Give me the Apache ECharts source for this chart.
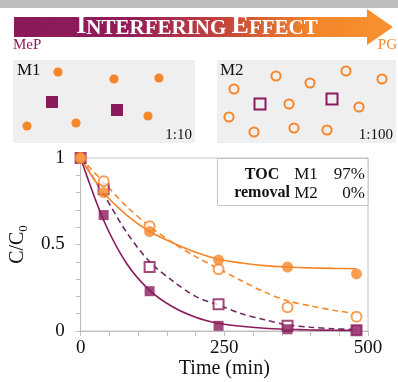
<!DOCTYPE html>
<html>
<head>
<meta charset="utf-8">
<script src="https://cdn.jsdelivr.net/npm/echarts@6/dist/echarts.min.js"></script>
<style>html,body{margin:0;padding:0;background:#fff}#c{width:398px;height:382px}</style>
</head>
<body>
<div id="c"></div>
<script>
// ---- data ----
const times = [0, 40, 120, 240, 360, 480];
const mepM1 = [1, 0.67, 0.23, 0.03, 0.01, 0.005];
const mepM2 = [1, 0.82, 0.37, 0.155, 0.03, 0.005];
const pgM1 = [1, 0.80, 0.575, 0.41, 0.37, 0.33];
const pgM2 = [1, 0.865, 0.605, 0.357, 0.137, 0.083];
const fitTimes = [0, 40, 80, 120, 160, 200, 240, 280, 320, 360, 400, 440, 480];
const fitMepM1 = [1, 0.64, 0.39, 0.235, 0.14, 0.08, 0.045, 0.027, 0.016, 0.01, 0.006, 0.004, 0.003];
const fitMepM2 = [1, 0.79, 0.57, 0.40, 0.29, 0.20, 0.15, 0.10, 0.065, 0.035, 0.022, 0.013, 0.008];
const fitPgM1 = [1, 0.80, 0.67, 0.575, 0.51, 0.455, 0.415, 0.393, 0.378, 0.37, 0.365, 0.362, 0.36];
const fitPgM2 = [1, 0.86, 0.72, 0.605, 0.51, 0.43, 0.36, 0.29, 0.225, 0.175, 0.145, 0.12, 0.10];
const xTickLabels = [0, 250, 500];
const yTickLabels = [0, 0.5, 1];
const tocRows = [['M1', '97%'], ['M2', '0%']];

const PURPLE = '#8B1A5C';
const ORANGE = '#F7862B';
const SERIF = '"Liberation Serif", "DejaVu Serif", serif';

const pairs = (xs, ys) => xs.map((x, i) => [x, ys[i]]);

// ---- illustration (decoration) ----
const m1Circles = [[58,72],[114,79],[159,78],[27,126],[76,123],[148,116]];
const m1Squares = [[52,102],[117,110]];
const m2Circles = [[276,76],[310,83],[346,71],[382,79],[234,89],[289,104],[359,107],[229,117],[254,132],[294,128],[327,130]];
const m2Squares = [[260,104],[332,99]];

const graphic = [];
graphic.push({type:'rect', shape:{x:0,y:0,width:398,height:8}, style:{fill:'#bdbdbd'}, silent:true});
graphic.push({type:'polygon', shape:{points:[[14,17],[367,17],[367,9],[393,27],[367,45],[367,37],[14,37]]},
  style:{fill:new echarts.graphic.LinearGradient(0,0,1,0,[
    {offset:0,color:'#8a1a5b'},{offset:0.3,color:'#921c58'},{offset:0.55,color:'#c4443c'},
    {offset:0.78,color:'#f2852b'},{offset:1,color:'#f8922f'}])}, silent:true});
graphic.push({type:'text', x:197, y:26, z:5, style:{
  text:'{b|I}{s|NTERFERING }{b|E}{s|FFECT}', align:'center', verticalAlign:'middle',
  rich:{
    b:{fontSize:26, fontWeight:'bold', fontFamily:SERIF, fill:'#fff', verticalAlign:'bottom'},
    s:{fontSize:21, fontWeight:'bold', fontFamily:SERIF, fill:'#fff', verticalAlign:'bottom'}
  }}, silent:true});
graphic.push({type:'text', x:13, y:53, style:{text:'MeP', fontSize:15, fontFamily:SERIF, fill:PURPLE, verticalAlign:'bottom'}});
graphic.push({type:'text', x:397, y:53, style:{text:'PG', fontSize:15, fontFamily:SERIF, fill:ORANGE, align:'right', verticalAlign:'bottom'}});
graphic.push({type:'rect', shape:{x:13,y:60,width:182,height:83}, style:{fill:'#efefef'}});
graphic.push({type:'rect', shape:{x:217,y:60,width:179,height:83}, style:{fill:'#efefef'}});
graphic.push({type:'text', x:17, y:71, style:{text:'M1', fontSize:17, fontFamily:SERIF, fill:'#111', verticalAlign:'middle'}});
graphic.push({type:'text', x:220, y:71, style:{text:'M2', fontSize:17, fontFamily:SERIF, fill:'#111', verticalAlign:'middle'}});
graphic.push({type:'text', x:192, y:135, style:{text:'1:10', fontSize:15, fontFamily:SERIF, fill:'#111', align:'right', verticalAlign:'middle'}});
graphic.push({type:'text', x:393, y:135, style:{text:'1:100', fontSize:15, fontFamily:SERIF, fill:'#111', align:'right', verticalAlign:'middle'}});
m1Circles.forEach(p => graphic.push({type:'circle', shape:{cx:p[0], cy:p[1], r:4.6}, style:{fill:ORANGE}}));
m1Squares.forEach(p => graphic.push({type:'rect', shape:{x:p[0]-6, y:p[1]-6, width:12, height:12}, style:{fill:PURPLE}}));
m2Circles.forEach(p => graphic.push({type:'circle', shape:{cx:p[0], cy:p[1], r:4.6}, style:{fill:'none', stroke:ORANGE, lineWidth:2}}));
m2Squares.forEach(p => graphic.push({type:'rect', shape:{x:p[0]-5.5, y:p[1]-5.5, width:11, height:11}, style:{fill:'none', stroke:PURPLE, lineWidth:2}}));

// TOC removal box
graphic.push({type:'rect', z:10, shape:{x:217.5,y:158.5,width:150.5,height:47}, style:{fill:'#fff', stroke:'#c4c4c4', lineWidth:1}});
graphic.push({type:'text', z:11, x:262, y:175, style:{text:'TOC', fontSize:16, fontWeight:'bold', fontFamily:SERIF, fill:'#111', align:'center', verticalAlign:'middle'}});
graphic.push({type:'text', z:11, x:262, y:193, style:{text:'removal', fontSize:16, fontWeight:'bold', fontFamily:SERIF, fill:'#111', align:'center', verticalAlign:'middle'}});
tocRows.forEach((r, i) => {
  graphic.push({type:'text', z:11, x:306, y:175 + i*18.5, style:{text:r[0], fontSize:17, fontFamily:SERIF, fill:'#111', align:'center', verticalAlign:'middle'}});
  graphic.push({type:'text', z:11, x:365, y:175 + i*18.5, style:{text:r[1], fontSize:17, fontFamily:SERIF, fill:'#111', align:'right', verticalAlign:'middle'}});
});

const near = (v, arr) => arr.some(a => Math.abs(a - v) < 1e-6);

const chart = echarts.init(document.getElementById('c'), null, {renderer:'canvas'});
chart.setOption({
  animation:false,
  backgroundColor:'#fff',
  graphic: graphic,
  grid:{left:78, top:158, width:290, height:173, show:true, borderColor:'#c4c4c4', borderWidth:1, backgroundColor:'transparent'},
  xAxis:{type:'value', min:0, max:500, interval:50,
    name:'Time (min)', nameLocation:'middle', nameGap:24,
    nameTextStyle:{fontSize:20, fontFamily:SERIF, color:'#111'},
    axisLine:{show:true, lineStyle:{color:'#bfbfbf'}},
    axisTick:{show:true, length:5, lineStyle:{color:'#bfbfbf'}},
    splitLine:{show:false},
    axisLabel:{margin:8, fontSize:19, fontFamily:SERIF, color:'#111', formatter:v => near(v, xTickLabels) ? String(v) : ''}
  },
  yAxis:{type:'value', min:0, max:1, interval:0.1,
    name:'{a|C/C}{b|0}', nameLocation:'middle', nameGap:42, nameRotate:90,
    nameTextStyle:{color:'#111', rich:{
      a:{fontSize:20, fontFamily:SERIF, color:'#111', lineHeight:24},
      b:{fontSize:13, fontFamily:SERIF, color:'#111', verticalAlign:'bottom', lineHeight:13}
    }},
    axisLine:{show:true, lineStyle:{color:'#bfbfbf'}},
    axisTick:{show:true, length:5, lineStyle:{color:'#bfbfbf'}},
    splitLine:{show:false},
    axisLabel:{margin:16, fontSize:19, fontFamily:SERIF, color:'#111', formatter:v => near(v, yTickLabels) ? String(Math.round(v*10)/10) : ''}
  },
  series:[
    {type:'line', data:pairs(fitTimes, fitMepM1), showSymbol:false, smooth:0.3, lineStyle:{color:PURPLE, width:1.6}, z:2},
    {type:'line', data:pairs(fitTimes, fitMepM2), showSymbol:false, smooth:0.3, lineStyle:{color:'#6e2a5e', width:1.6, type:[6,4]}, z:2},
    {type:'line', data:pairs(fitTimes, fitPgM1), showSymbol:false, smooth:0.3, lineStyle:{color:ORANGE, width:1.6}, z:2},
    {type:'line', data:pairs(fitTimes, fitPgM2), showSymbol:false, smooth:0.3, lineStyle:{color:ORANGE, width:1.6, type:[6,4]}, z:2},
    {type:'scatter', data:pairs(times, mepM2), symbol:'rect', symbolSize:10, itemStyle:{color:'#fff', borderColor:PURPLE, borderWidth:2}, z:3},
    {type:'scatter', data:pairs(times, mepM1), symbol:'rect', symbolSize:10, itemStyle:{color:PURPLE}, z:3},
    {type:'scatter', data:pairs(times, pgM2), symbol:'circle', symbolSize:10, itemStyle:{color:'#fff', borderColor:ORANGE, borderWidth:2}, z:4},
    {type:'scatter', data:pairs(times, pgM1), symbol:'circle', symbolSize:11, itemStyle:{color:ORANGE}, z:4}
  ]
});
</script>
</body>
</html>
